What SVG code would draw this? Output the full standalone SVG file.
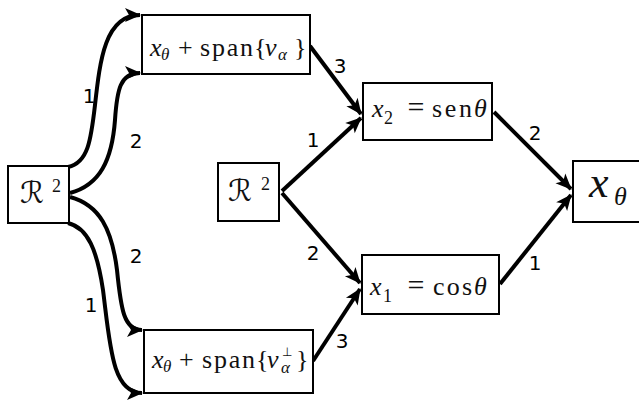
<svg xmlns="http://www.w3.org/2000/svg" width="639" height="401" viewBox="0 0 639 401">
<style>
.box{fill:#fff;stroke:#000;stroke-width:2}
.lbl{font-family:"DejaVu Sans",sans-serif;font-size:20px;fill:#000;text-anchor:middle}
.c{fill:none;stroke:#000;stroke-width:4;marker-end:url(#ah)}
</style>
<defs>
<marker id="ah" markerUnits="userSpaceOnUse" markerWidth="17" markerHeight="14" refX="15" refY="7" orient="auto" overflow="visible">
<path d="M0,0 L16,7 L0,14 L4,7 Z" fill="#000"/>
</marker>
</defs>
<rect width="639" height="401" fill="#fff"/>
<g id="connectors">
<path class="c" d="M68,167 C88,163 91,140 95,105 C100,60 105,15 140,15"/>
<path class="c" d="M70,193 C100,185 112,160 115,120 C117,90 120,73 140,73"/>
<path class="c" d="M70,197 C100,205 112,230 117,270 C121,310 124,330 142,330"/>
<path class="c" d="M68,223 C88,228 97,250 103,290 C110,345 112,393 142,393"/>
<path class="c" d="M310,46 L361,114"/>
<path class="c" d="M282,191 L361,118"/>
<path class="c" d="M282,193 L360,283"/>
<path class="c" d="M313,361 L360,289"/>
<path class="c" d="M494,112 L571,189"/>
<path class="c" d="M500,284 L571,195"/>
<text class="lbl" x="89" y="103">1</text>
<text class="lbl" x="136" y="148">2</text>
<text class="lbl" x="136" y="263">2</text>
<text class="lbl" x="91" y="312">1</text>
<text class="lbl" x="340" y="73">3</text>
<text class="lbl" x="313" y="147">1</text>
<text class="lbl" x="313" y="260">2</text>
<text class="lbl" x="342" y="348">3</text>
<text class="lbl" x="535" y="140">2</text>
<text class="lbl" x="535" y="270">1</text>
</g>
<g id="nodeA">
<rect class="box" x="8" y="166" width="61" height="57"/>
<text x="20" y="203" font-size="30" font-family="DejaVu Sans" fill="#111">ℛ</text>
<text x="52" y="192" font-size="18" font-family="Liberation Serif" fill="#111">2</text>
</g>
<g id="nodeB">
<rect class="box" x="142" y="15" width="168" height="59"/>
<text x="150" y="56" font-size="26" font-family="Liberation Serif" font-style="italic" fill="#111">x</text>
<text x="161" y="60" font-size="17" font-family="Liberation Serif" font-style="italic" fill="#111">θ</text>
<text x="178" y="56" font-size="26" font-family="Liberation Serif" fill="#111">+</text>
<text x="200" y="56" font-size="26" font-family="Liberation Serif" fill="#111" textLength="53">span</text>
<text x="254" y="56" font-size="26" font-family="Liberation Serif" fill="#111">{</text>
<text x="265" y="56" font-size="26" font-family="Liberation Serif" font-style="italic" fill="#111">v</text>
<text x="278" y="60" font-size="17" font-family="Liberation Serif" font-style="italic" fill="#111">α</text>
<text x="294" y="56" font-size="26" font-family="Liberation Serif" fill="#111">}</text>
</g>
<g id="nodeC">
<rect class="box" x="144" y="330" width="169" height="63"/>
<text x="152" y="368" font-size="26" font-family="Liberation Serif" font-style="italic" fill="#111">x</text>
<text x="163" y="372" font-size="17" font-family="Liberation Serif" font-style="italic" fill="#111">θ</text>
<text x="179" y="368" font-size="26" font-family="Liberation Serif" fill="#111">+</text>
<text x="202" y="368" font-size="26" font-family="Liberation Serif" fill="#111" textLength="53">span</text>
<text x="256" y="368" font-size="26" font-family="Liberation Serif" fill="#111">{</text>
<text x="267" y="368" font-size="26" font-family="Liberation Serif" font-style="italic" fill="#111">v</text>
<text x="282" y="356" font-size="12" font-family="DejaVu Sans" fill="#111">⊥</text>
<text x="281" y="373" font-size="17" font-family="Liberation Serif" font-style="italic" fill="#111">α</text>
<text x="296" y="368" font-size="26" font-family="Liberation Serif" fill="#111">}</text>
</g>
<g id="nodeD">
<rect class="box" x="218" y="163" width="61" height="58"/>
<text x="228" y="201" font-size="30" font-family="DejaVu Sans" fill="#111">ℛ</text>
<text x="261" y="190" font-size="18" font-family="Liberation Serif" fill="#111">2</text>
</g>
<g id="nodeE">
<rect class="box" x="363" y="83" width="129" height="57"/>
<text x="372" y="117" font-size="26" font-family="Liberation Serif" font-style="italic" fill="#111">x</text>
<text x="384" y="124" font-size="18" font-family="Liberation Serif" fill="#111">2</text>
<text x="416" y="117" font-size="30" font-family="Liberation Serif" fill="#111" text-anchor="middle">=</text>
<text x="432" y="117" font-size="26" font-family="Liberation Serif" fill="#111" textLength="40">sen</text>
<text x="474" y="117" font-size="26" font-family="Liberation Serif" font-style="italic" fill="#111">θ</text>
</g>
<g id="nodeF">
<rect class="box" x="362" y="255" width="137" height="59"/>
<text x="370" y="295" font-size="26" font-family="Liberation Serif" font-style="italic" fill="#111">x</text>
<text x="383" y="302" font-size="18" font-family="Liberation Serif" fill="#111">1</text>
<text x="416" y="295" font-size="30" font-family="Liberation Serif" fill="#111" text-anchor="middle">=</text>
<text x="433" y="295" font-size="26" font-family="Liberation Serif" fill="#111" textLength="39">cos</text>
<text x="474" y="295" font-size="26" font-family="Liberation Serif" font-style="italic" fill="#111">θ</text>
</g>
<g id="nodeG">
<rect class="box" x="573" y="161" width="80" height="61"/>
<text x="589" y="197" font-size="44" font-family="Liberation Serif" font-style="italic" fill="#111">x</text>
<text x="614" y="205" font-size="26" font-family="Liberation Serif" font-style="italic" fill="#111">θ</text>
</g>
</svg>
